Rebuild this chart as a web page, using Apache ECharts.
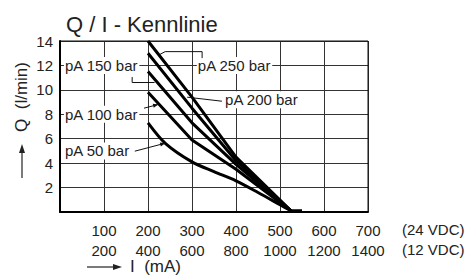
<!DOCTYPE html>
<html>
<head>
<meta charset="utf-8">
<script src="https://cdn.jsdelivr.net/npm/echarts@6/dist/echarts.min.js"></script>
<style>
  html, body { margin: 0; padding: 0; background: #fff; }
  #chart { width: 473px; height: 277px; }
</style>
</head>
<body>
<div id="chart"></div>
<script>
// Q/I Kennlinie
var seriesNames = ['pA 250 bar', 'pA 200 bar', 'pA 150 bar', 'pA 100 bar', 'pA 50 bar'];
var pA250 = [[200, 14], [300, 9.4], [400, 4.5], [525, 0.1], [550, 0.1]];
var pA200 = [[200, 13], [300, 8.5], [400, 4.2], [525, 0.1]];
var pA150 = [[200, 11.5], [300, 7.3], [400, 3.9], [525, 0.1]];
var pA100 = [[200, 9.8], [300, 5.9], [400, 3.5], [525, 0.1]];
var pA50 = [[200, 7.3], [240, 5.6], [300, 4.1], [350, 3.3], [400, 2.55], [450, 1.6], [500, 0.6], [525, 0.1]];
var xTicks24 = [100, 200, 300, 400, 500, 600, 700];   // mA bei 24 VDC
var yTicks = [2, 4, 6, 8, 10, 12, 14];                 // l/min

var font = '"Liberation Sans", Arial, sans-serif';
var chartDom = document.getElementById('chart');
var myChart = echarts.init(chartDom, null, { renderer: 'svg' });

var allData = [pA250, pA200, pA150, pA100, pA50];
var option = {
  animation: false,
  title: {
    text: 'Q / I - Kennlinie',
    left: 61,
    top: 8,
    textStyle: { fontFamily: font, fontSize: 22, fontWeight: 'normal', color: '#222' }
  },
  grid: { left: 60, right: 105, top: 41, bottom: 65 },
  xAxis: {
    type: 'value',
    min: 0, max: 700, interval: 100,
    name: '(24 VDC)\n(12 VDC)',
    nameLocation: 'end',
    nameGap: 34,
    nameTextStyle: {
      fontFamily: font, fontSize: 15, color: '#222',
      align: 'left', verticalAlign: 'top', lineHeight: 20, padding: [7, 0, 0, 0]
    },
    axisLine: { onZero: false, lineStyle: { color: '#000', width: 2 } },
    axisTick: { length: 0 },
    splitLine: { show: true, lineStyle: { color: '#333', width: 1 } },
    axisLabel: {
      fontFamily: font, fontSize: 15, color: '#222', lineHeight: 20, margin: 8,
      formatter: function (v) {
        return xTicks24.indexOf(v) >= 0 ? v + '\n' + (v * 2) : '';
      }
    }
  },
  yAxis: {
    type: 'value',
    min: 0, max: 14, interval: 2,
    axisLine: { show: true, lineStyle: { color: '#000', width: 2 } },
    axisTick: { length: 0 },
    splitLine: { show: true, lineStyle: { color: '#333', width: 1 } },
    axisLabel: {
      fontFamily: font, fontSize: 15, color: '#222', margin: 7,
      formatter: function (v) { return yTicks.indexOf(v) >= 0 ? String(v) : ''; }
    }
  },
  series: allData.map(function (d, i) {
    return {
      name: seriesNames[i],
      type: 'line',
      data: d,
      smooth: i === 4 ? 0.3 : false,
      symbol: 'none',
      z: 5,
      lineStyle: { color: '#000', width: 3 }
    };
  })
};
myChart.setOption(option);

// Beschriftungen mit Hinweislinien (in Datenkoordinaten)
var notes = [
  { text: 'pA 150 bar', at: [9, 12], leader: [[164, 11.05], [164, 10.6], [215, 10.6]], arrow: false },
  { text: 'pA 100 bar', at: [9, 8], leader: [[191, 8.5], [223, 8.8]], arrow: true },
  { text: 'pA 50 bar', at: [9, 5], leader: [[170, 4.98], [239, 5.63]], arrow: true },
  { text: 'pA 250 bar', at: [311, 12], leader: [[323, 12.6], [323, 13.13], [239, 13.13], [227, 12.9]], arrow: false },
  { text: 'pA 200 bar', at: [373, 9.2], leader: [[368, 9.07], [289, 9.4]], arrow: false }
];

function px(p) { return myChart.convertToPixel({ gridIndex: 0 }, p); }

function arrowHead(a, b, len, half) {
  var dx = b[0] - a[0], dy = b[1] - a[1];
  var l = Math.sqrt(dx * dx + dy * dy);
  var ux = dx / l, uy = dy / l;
  var bx = b[0] - ux * len, by = b[1] - uy * len;
  return [b, [bx - uy * half, by + ux * half], [bx + uy * half, by - ux * half]];
}

var graphics = [];
notes.forEach(function (n) {
  var pts = n.leader.map(px);
  graphics.push({
    type: 'polyline', z: 20,
    shape: { points: pts },
    style: { stroke: '#111', lineWidth: 1, fill: null }
  });
  if (n.arrow) {
    graphics.push({
      type: 'polygon', z: 20,
      shape: { points: arrowHead(pts[pts.length - 2], pts[pts.length - 1], 5, 2) },
      style: { fill: '#111' }
    });
  }
  var p = px(n.at);
  graphics.push({
    type: 'text', z: 15,
    x: p[0], y: p[1],
    style: {
      text: n.text, fill: '#222', font: '15px ' + font,
      align: 'left', verticalAlign: 'middle',
      backgroundColor: '#fff', padding: [1, 1, 1, 1]
    }
  });
});

// dünner Rahmen oben und rechts
graphics.push({
  type: 'polyline',
  shape: { points: [px([0, 14]), px([700, 14]), px([700, 0])] },
  style: { stroke: '#111', lineWidth: 1, fill: null }
});

// Achsentitel mit Pfeilen
graphics.push(
  { type: 'line', shape: { x1: 22, y1: 178, x2: 22, y2: 151 }, style: { stroke: '#222', lineWidth: 1.2 } },
  { type: 'polygon', shape: { points: [[22, 144], [19, 153], [25, 153]] }, style: { fill: '#222' } },
  {
    type: 'text', x: 21, y: 97, rotation: Math.PI / 2,
    style: { text: 'Q  (l/min)', fill: '#222', font: '17px ' + font, align: 'center', verticalAlign: 'middle' }
  },
  { type: 'line', shape: { x1: 87, y1: 267, x2: 115, y2: 267 }, style: { stroke: '#222', lineWidth: 1.2 } },
  { type: 'polygon', shape: { points: [[122, 267], [113, 264], [113, 270]] }, style: { fill: '#222' } },
  {
    type: 'text', x: 130, y: 266,
    style: { text: 'I  (mA)', fill: '#222', font: '17px ' + font, align: 'left', verticalAlign: 'middle' }
  }
);

myChart.setOption({ graphic: graphics });
</script>
</body>
</html>
